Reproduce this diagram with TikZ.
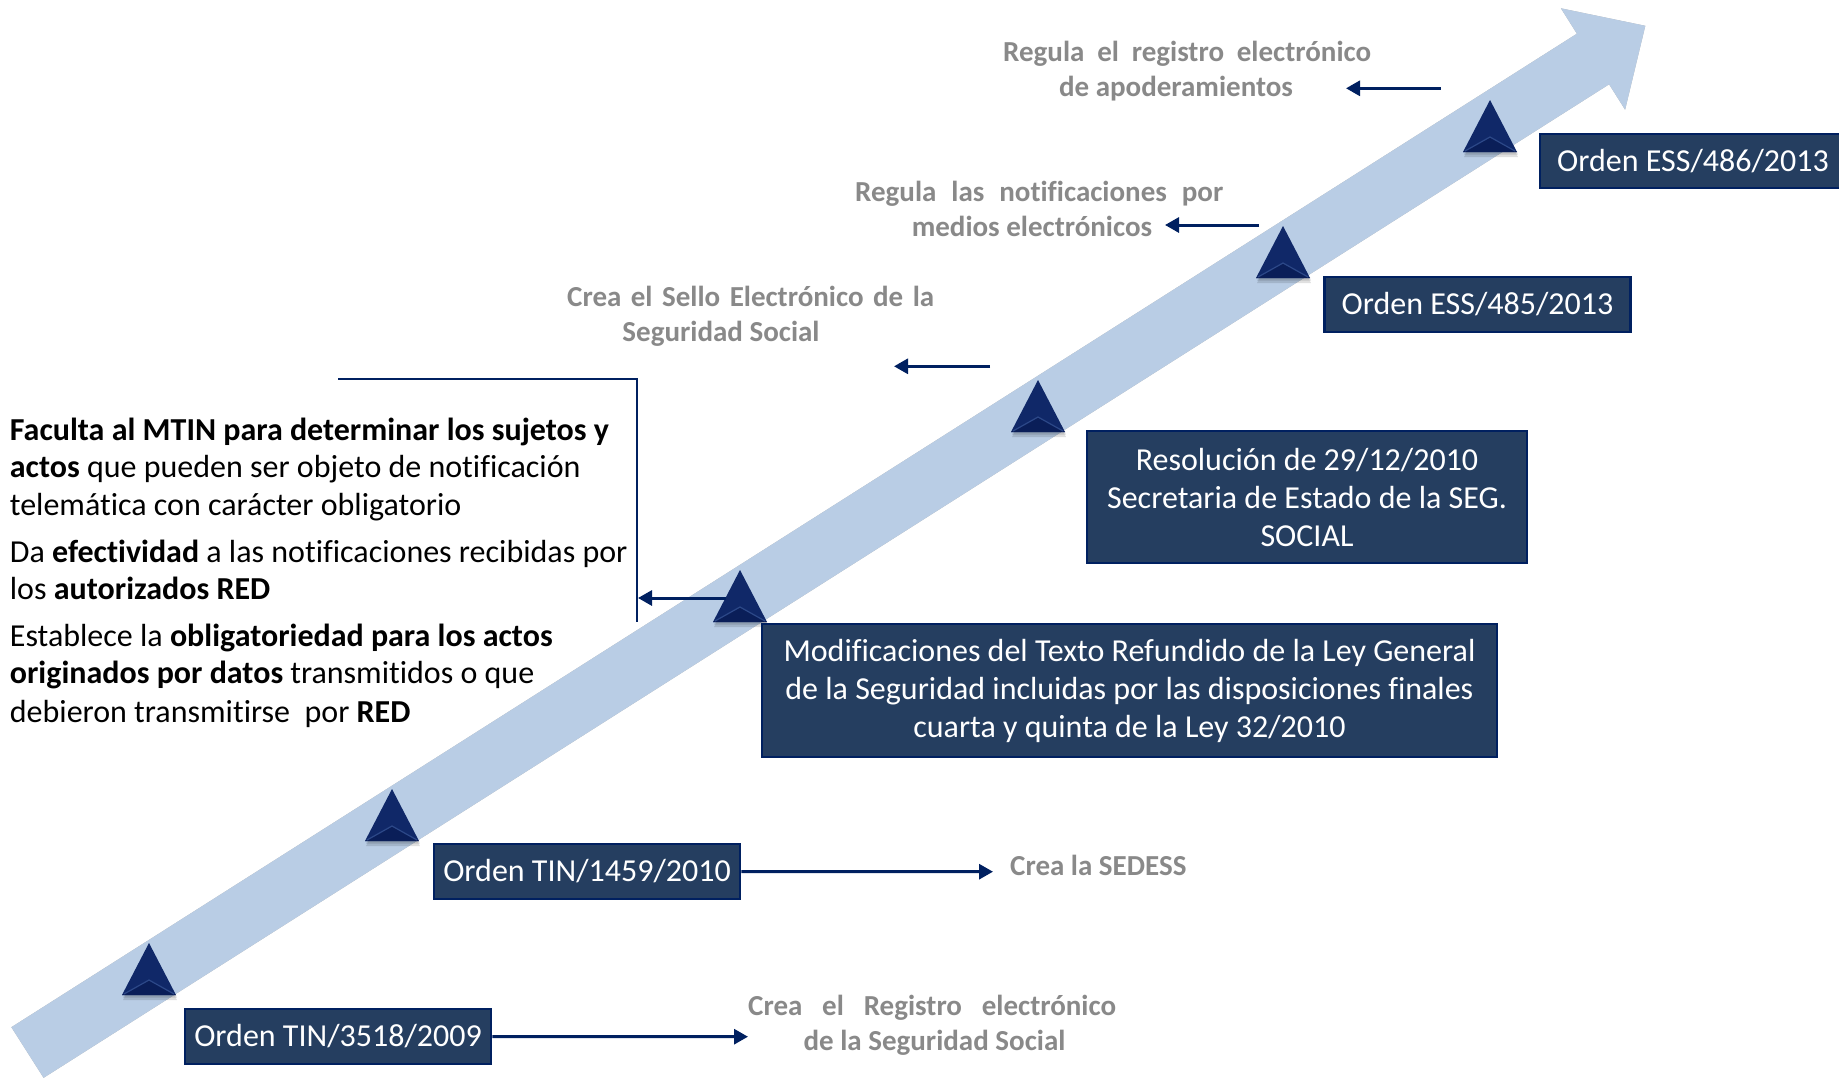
\documentclass[tikz,border=0pt]{standalone}
\usepackage{fontspec}
\setmainfont{Carlito}[Ligatures={NoCommon,NoContextual}]
\usetikzlibrary{arrows.meta}
\definecolor{bandblue}{RGB}{185,205,229}
\definecolor{boxfill}{RGB}{37,62,96}
\definecolor{navy}{RGB}{0,32,96}
\definecolor{greyt}{RGB}{137,137,137}
\definecolor{trinavy}{RGB}{16,40,104}
\definecolor{trifacet}{RGB}{10,30,88}
\definecolor{triedge}{RGB}{44,72,136}
\newcommand\milestone[3]{%
  \fill[black,opacity=.12] (#2-27+1,#3+5) -- (#2+1,#3-52+5) -- (#2+27+1,#3+5) -- cycle;
  \fill[black,opacity=.12] (#2-27+1,#3+2.5) -- (#2+1,#3-52+2.5) -- (#2+27+1,#3+2.5) -- cycle;
  \fill[trinavy] (#2-27,#3) coordinate (#1l) -- (#2,#3-52) coordinate (#1) -- (#2+27,#3) coordinate (#1r) -- cycle;
  \fill[trifacet] (#2-27,#3) -- (#2,#3-15) -- (#2+27,#3) -- cycle;
  \draw[triedge,line width=1.2pt] (#2-25,#3-1) -- (#2,#3-15) -- (#2+25,#3-1);
}
\begin{document}
\begin{tikzpicture}[x=1pt,y=-1pt,
  datebox/.style={draw=navy, line width=2.5pt, fill=boxfill, text=white,
    font=\fontsize{32}{38}\selectfont, align=center, inner sep=0pt},
  greytext/.style={text=greyt, font=\fontsize{29}{35}\selectfont\bfseries, inner sep=0pt},
  lefttext/.style={font=\fontsize{32}{38}\selectfont, inner sep=0pt, anchor=base west},
  conn/.style={navy, line width=3pt, -{Triangle[length=14pt,width=15pt]}},
  bracket/.style={navy, line width=2pt},
]
\clip (0,0) rectangle (1839,1079);
\fill[white] (0,0) rectangle (1839,1079);

% ---- timeline band (big arrow) ----
\coordinate (tailU) at (11.4,1027.2);
\coordinate (tailL) at (43.6,1077.8);
\coordinate (notchU) at (1576.9,33.7);
\coordinate (notchL) at (1609.1,84.3);
\coordinate (wingU) at (1560.9,8.3);
\coordinate (wingL) at (1625.1,109.7);
\coordinate (tip) at (1645.3,25.8);
\foreach \dx/\dy/\op in {5/7/0.06, 3.5/5/0.10, 2/3/0.16}{
  \fill[black,opacity=\op,shift={(\dx,\dy)}] (tailU) -- (notchU) -- (wingU) -- (tip) -- (wingL) -- (notchL) -- (tailL) -- cycle;
}
\fill[bandblue] (tailU) -- (notchU) -- (wingU) -- (tip) -- (wingL) -- (notchL) -- (tailL) -- cycle;

% ---- milestones ----
\milestone{m1}{149}{995}
\milestone{m2}{392}{841}
\milestone{m3}{740}{622}
\milestone{m4}{1038}{432}
\milestone{m5}{1283}{278}
\milestone{m6}{1490}{152}

% ---- boxes ----
\node[datebox, minimum width=306pt, minimum height=55pt] (b1) at (338,1036.5) {Orden TIN/3518/2009};
\node[datebox, minimum width=306pt, minimum height=55pt] (b2) at (587,871.5) {Orden TIN/1459/2010};
\node[datebox, minimum width=735pt, minimum height=133pt] (b3) at (1129.5,690.5)
  {Modificaciones del Texto Refundido de la Ley General\\de la Seguridad incluidas por las disposiciones finales\\cuarta y quinta de la Ley 32/2010};
\node[datebox, minimum width=440pt, minimum height=132pt] (b4) at (1307,497)
  {Resolución de 29/12/2010\\Secretaria de Estado de la SEG.\\SOCIAL};
\node[datebox, minimum width=306pt, minimum height=55pt] (b5) at (1477.5,304.5) {Orden ESS/485/2013};
\node[datebox, minimum width=306pt, minimum height=54pt] (b6) at (1693,161) {Orden ESS/486/2013};

% ---- grey descriptions ----
\node[greytext, anchor=base west] (g1a) at (1003,61.7) {\makebox[368pt][s]{Regula el registro electrónico}};
\node[greytext, anchor=base] (g1b) at (1176,96.7) {de apoderamientos};
\node[greytext, anchor=base west] (g2a) at (855,201.7) {\makebox[368pt][s]{Regula las notificaciones por}};
\node[greytext, anchor=base] (g2b) at (1032,236.7) {medios electrónicos};
\node[greytext, anchor=base west] (g3a) at (567,306.7) {\makebox[367pt][s]{Crea el Sello Electrónico de la}};
\node[greytext, anchor=base] (g3b) at (721,341.7) {Seguridad Social};
\node[greytext, anchor=base west] (g4) at (1010,875) {Crea la SEDESS};
\node[greytext, anchor=base west] (g5a) at (748,1015) {\makebox[368pt][s]{Crea el Registro electrónico}};
\node[greytext, anchor=base] (g5b) at (934.5,1050) {de la Seguridad Social};

% ---- left explanatory text ----
\node[lefttext] (l1) at (9.7,440) {\textbf{Faculta al MTIN para determinar los sujetos y}};
\node[lefttext] (l2) at (9.7,477) {\textbf{actos} que pueden ser objeto de notificación};
\node[lefttext] (l3) at (9.7,515) {telemática con carácter obligatorio};
\node[lefttext] (l4) at (9.7,562) {Da \textbf{efectividad} a las notificaciones recibidas por};
\node[lefttext] (l5) at (9.7,599) {los \textbf{autorizados RED}};
\node[lefttext] (l6) at (9.7,646) {Establece la \textbf{obligatoriedad para los actos}};
\node[lefttext] (l7) at (9.7,683) {\textbf{originados por datos} transmitidos o que};
\node[lefttext] (l8) at (9.7,722) {debieron transmitirse\ \ por \textbf{RED}};

% ---- connectors ----
\coordinate (a1s) at (1440.7,88.3);
\coordinate (a1e) at (1346,88.3);
\coordinate (a2s) at (1259,225);
\coordinate (a2e) at (1165,225);
\coordinate (a3s) at (990,366.3);
\coordinate (a3e) at (894,366.3);
\coordinate (brA) at (338,379);
\coordinate (brB) at (636.5,379);
\coordinate (brC) at (636.5,622);
\coordinate (a4s) at (726,598);
\coordinate (a4e) at (638,598);
\coordinate (a5e) at (993,871.7);
\coordinate (a6e) at (748,1036.7);

\draw[conn] (a1s) -- (a1e);
\draw[conn] (a2s) -- (a2e);
\draw[conn] (a3s) -- (a3e);
\draw[bracket] (brA) -- (brB) -- (brC);
\draw[conn] (a4s) -- (a4e);
\draw[conn] (b2.east) -- (a5e);
\draw[conn] (b1.east) -- (a6e);
\end{tikzpicture}
\end{document}
